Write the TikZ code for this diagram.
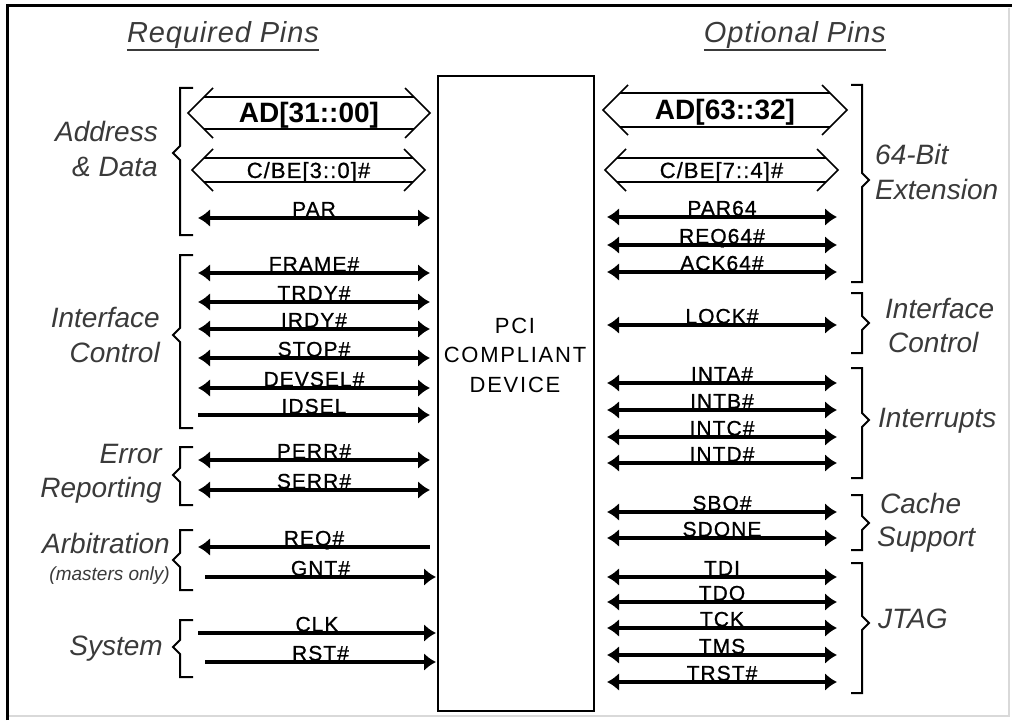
\documentclass[tikz,border=0pt]{standalone}
\usepackage{fontspec}
\setmainfont{Liberation Sans}
\newfontfamily\sigfont[LetterSpace=5,FakeBold=0.8]{Liberation Sans}
\newfontfamily\ctrfont[LetterSpace=8]{Liberation Sans}
\newfontfamily\ttlfont[LetterSpace=3]{Liberation Sans}
\usetikzlibrary{arrows.meta,calc}
\definecolor{grptext}{HTML}{3A3A3A}

% signal line: name, arrow spec, x1, x2, y, label
\newcommand\pinsig[6]{%
  \coordinate (#1-a) at (#3,#5);
  \coordinate (#1-b) at (#4,#5);
  \draw[sigline,#2] (#1-a) -- (#1-b);
  \node[siglbl] (#1-l) at ({(#3+#4)/2},#5-1.5) {#6};
}
% hollow bus arrow: name, xl, xr, y, h, a, label style, label, baseline offset
\newcommand\hollow[9]{%
  \coordinate (#1-a) at (#2,#4);
  \coordinate (#1-b) at (#3,#4);
  \draw[holline] ($(#1-a)+(#6,-#6)$) -- (#1-a) -- ($(#1-a)+(#6,#6)$);
  \draw[holline] ($(#1-b)+(-#6,-#6)$) -- (#1-b) -- ($(#1-b)+(-#6,#6)$);
  \draw[holline] ($(#1-a)+(#5,-#5)$) -- ($(#1-b)+(-#5,-#5)$);
  \draw[holline] ($(#1-a)+(#5,#5)$) -- ($(#1-b)+(-#5,#5)$);
  \node[#7] (#1-l) at ($(#1-a)!0.5!(#1-b)+(0,#9)$) {#8};
}
% left bracket: x, top, bottom, notch
\newcommand\lbrk[4]{%
  \draw[brk] (#1+13,#2) -- (#1,#2) -- (#1,#4-7) -- (#1-7,#4) -- (#1,#4+7) -- (#1,#3) -- (#1+13,#3);
}
% right bracket: x, top, bottom, notch
\newcommand\rbrk[4]{%
  \draw[brk] (#1-11,#2) -- (#1,#2) -- (#1,#4-7) -- (#1+7,#4) -- (#1,#4+7) -- (#1,#3) -- (#1-11,#3);
}

\begin{document}
\begin{tikzpicture}[x=1pt,y=-1pt,
  >={Latex[length=12pt,width=18pt]},
  sigline/.style={line width=4pt},
  holline/.style={line width=1.6pt},
  brk/.style={line width=2pt},
  siglbl/.style={font=\fontsize{21}{21}\sigfont, anchor=base, inner sep=0pt},
  adlbl/.style={font=\fontsize{28}{28}\selectfont\bfseries, anchor=base, inner sep=0pt},
  cbelbl/.style={font=\fontsize{22}{22}\sigfont, anchor=base, inner sep=0pt},
  grp/.style={font=\fontsize{28}{28}\selectfont\itshape, text=grptext, inner sep=0pt},
  grpsmall/.style={font=\fontsize{19}{19}\selectfont\itshape, text=grptext, inner sep=0pt},
  ttl/.style={font=\fontsize{29}{29}\ttlfont\itshape, text=grptext, anchor=base, inner sep=0pt},
  ctr/.style={font=\fontsize{22}{22}\ctrfont, anchor=base, inner sep=0pt},
  devbox/.style={draw, line width=2pt, inner sep=0pt, minimum width=156pt, minimum height=635pt}
]
\useasboundingbox (0,0) rectangle (1014,722);
\fill[white] (0,0) rectangle (1014,722);

% outer frame
\draw[black!15, line width=1.5pt] (1009,8) -- (1009,716) -- (9,716);
\draw[line width=3pt] (7,720) -- (7,6) -- (1012,6);

% titles
\node[ttl] (treq) at (223,43) {Required Pins};
\draw[grptext, line width=1.5pt] ($(treq.base west)+(0,7)$) -- ($(treq.base east)+(0,7)$);
\node[ttl] (topt) at (795,43) {Optional Pins};
\draw[grptext, line width=1.5pt] ($(topt.base west)+(0,7)$) -- ($(topt.base east)+(0,7)$);

% device
\node[devbox, anchor=north west] (dev) at (437,75) {};
\node[ctr] (pci1) at (515,333) {PCI};
\node[ctr] (pci2) at (515,362) {COMPLIANT};
\node[ctr] (pci3) at (515,392) {DEVICE};

% ---- required pins ----
\hollow{ad}{188}{430}{113}{16}{25}{adlbl}{AD[31::00]}{10}
\hollow{cbe}{192}{425}{170}{12}{21}{cbelbl}{C/BE[3::0]\#}{8}
\pinsig{par}{<->}{198}{430}{218}{PAR}
\pinsig{frame}{<->}{198}{430}{273}{FRAME\#}
\pinsig{trdy}{<->}{198}{430}{302}{TRDY\#}
\pinsig{irdy}{<->}{198}{430}{329}{IRDY\#}
\pinsig{stop}{<->}{198}{430}{358}{STOP\#}
\pinsig{devsel}{<->}{198}{430}{388}{DEVSEL\#}
\pinsig{idsel}{->}{198}{430}{415}{IDSEL}
\pinsig{perr}{<->}{198}{430}{460}{PERR\#}
\pinsig{serr}{<->}{198}{430}{490}{SERR\#}
\pinsig{req}{<-}{198}{430}{547}{REQ\#}
\pinsig{gnt}{->}{205}{436}{577}{GNT\#}
\pinsig{clk}{->}{198}{436}{633}{CLK}
\pinsig{rst}{->}{205}{436}{662}{RST\#}

\lbrk{180}{88}{235}{153}
\lbrk{180}{255}{428}{335}
\lbrk{180}{447}{505}{475}
\lbrk{180}{530}{590}{560}
\lbrk{180}{620}{677}{647}

\node[grp, anchor=base east] (g-addr1) at (158,142) {Address};
\node[grp, anchor=base east] (g-addr2) at (158,177) {\& Data};
\node[grp, anchor=base east] (g-if1) at (160,327) {Interface};
\node[grp, anchor=base east] (g-if2) at (160,362) {Control};
\node[grp, anchor=base east] (g-err1) at (162,463) {Error};
\node[grp, anchor=base east] (g-err2) at (162,497) {Reporting};
\node[grp, anchor=base east] (g-arb1) at (170,553) {Arbitration};
\node[grpsmall, anchor=base east] (g-arb2) at (170,580) {(masters only)};
\node[grp, anchor=base east] (g-sys) at (163,655) {System};

% ---- optional pins ----
\hollow{ad64}{603}{847}{110}{17}{25}{adlbl}{AD[63::32]}{10}
\hollow{cbe64}{605}{838}{170}{12}{21}{cbelbl}{C/BE[7::4]\#}{8}
\pinsig{par64}{<->}{607}{837}{217}{PAR64}
\pinsig{req64}{<->}{607}{837}{245}{REQ64\#}
\pinsig{ack64}{<->}{607}{837}{272}{ACK64\#}
\pinsig{lock}{<->}{607}{837}{325}{LOCK\#}
\pinsig{inta}{<->}{607}{837}{383}{INTA\#}
\pinsig{intb}{<->}{607}{837}{410}{INTB\#}
\pinsig{intc}{<->}{607}{837}{437}{INTC\#}
\pinsig{intd}{<->}{607}{837}{463}{INTD\#}
\pinsig{sbo}{<->}{607}{837}{512}{SBO\#}
\pinsig{sdone}{<->}{607}{837}{538}{SDONE}
\pinsig{tdi}{<->}{607}{837}{577}{TDI}
\pinsig{tdo}{<->}{607}{837}{602}{TDO}
\pinsig{tck}{<->}{607}{837}{628}{TCK}
\pinsig{tms}{<->}{607}{837}{655}{TMS}
\pinsig{trst}{<->}{607}{837}{682}{TRST\#}

\rbrk{862}{85}{282}{180}
\rbrk{862}{293}{353}{323}
\rbrk{862}{368}{478}{420}
\rbrk{862}{495}{550}{523}
\rbrk{862}{563}{693}{623}

\node[grp, anchor=base west] (g-64a) at (875,165) {64-Bit};
\node[grp, anchor=base west] (g-64b) at (875,200) {Extension};
\node[grp, anchor=base west] (g-ric1) at (885,318) {Interface};
\node[grp, anchor=base west] (g-ric2) at (888,352) {Control};
\node[grp, anchor=base west] (g-int) at (878,427) {Interrupts};
\node[grp, anchor=base west] (g-cache1) at (880,513) {Cache};
\node[grp, anchor=base west] (g-cache2) at (877,546) {Support};
\node[grp, anchor=base west] (g-jtag) at (878,628) {JTAG};
\end{tikzpicture}
\end{document}
